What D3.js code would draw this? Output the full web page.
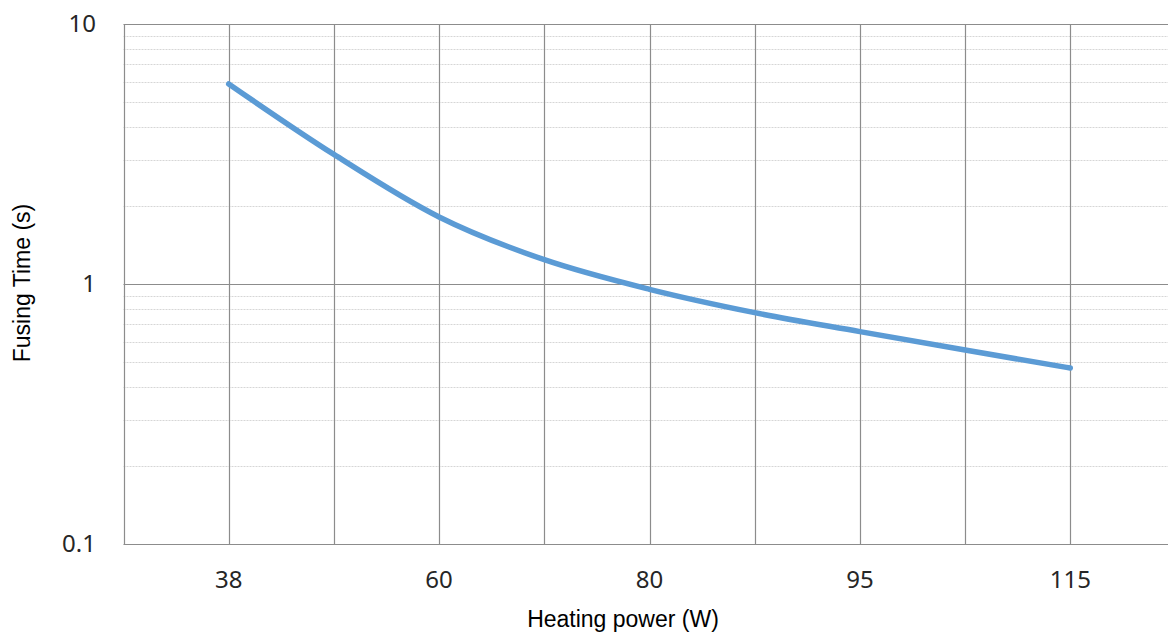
<!DOCTYPE html>
<html>
<head>
<meta charset="utf-8">
<script src="https://cdn.jsdelivr.net/npm/d3@7"></script>
<style>
  html, body { margin: 0; padding: 0; background: #fff; }
  svg { display: block; }
</style>
</head>
<body>
<svg id="chart" width="1168" height="633"></svg>
<script>
// ---- data ----
const categories = ["38", "", "60", "", "80", "", "95", "", "115"];
const fusingTime = [5.88, 3.15, 1.81, 1.24, 0.954, 0.776, 0.656, 0.557, 0.475];
const yTickValues = [0.1, 1, 10];
const yTickLabels = ["0.1", "1", "10"];
const xTitle = "Heating power (W)";
const yTitle = "Fusing Time (s)";

// ---- layout ----
const W = 1168, H = 633;
const mLeft = 123.5, mTop = 24, mBottom = 544;
const step = 105.2;

const svg = d3.select("#chart");

const x = d3.scaleLinear()
  .domain([0, categories.length + 1])
  .range([mLeft, mLeft + step * (categories.length + 1)]);
const y = d3.scaleLog().domain([0.1, 10]).range([mBottom, mTop]);

const plotRight = W;

// minor horizontal gridlines
const minor = [];
[0.1, 1].forEach(d => { for (let k = 2; k <= 9; k++) minor.push(d * k); });
svg.append("g")
  .selectAll("line")
  .data(minor)
  .join("line")
  .attr("x1", mLeft).attr("x2", plotRight)
  .attr("y1", d => Math.round(y(d)) + 0.5)
  .attr("y2", d => Math.round(y(d)) + 0.5)
  .attr("stroke", "#d6d6d6")
  .attr("stroke-width", 1)
  .attr("stroke-dasharray", "2,1");

// major horizontal gridlines
svg.append("g")
  .selectAll("line")
  .data(yTickValues)
  .join("line")
  .attr("x1", mLeft).attr("x2", plotRight)
  .attr("y1", d => Math.round(y(d)) + 0.5)
  .attr("y2", d => Math.round(y(d)) + 0.5)
  .attr("stroke", "#8c8c8c")
  .attr("stroke-width", 1.2);

// vertical gridlines (left axis + category lines)
const vIdx = d3.range(0, categories.length + 1);
svg.append("g")
  .selectAll("line")
  .data(vIdx)
  .join("line")
  .attr("x1", d => Math.round(x(d)) + 0.5)
  .attr("x2", d => Math.round(x(d)) + 0.5)
  .attr("y1", mTop).attr("y2", mBottom + 0.5)
  .attr("stroke", "#8c8c8c")
  .attr("stroke-width", 1.2);

// x tick labels
svg.append("g")
  .selectAll("text")
  .data(categories)
  .join("text")
  .attr("x", (d, i) => x(i + 1))
  .attr("y", 588)
  .attr("text-anchor", "middle")
  .attr("font-family", "'Noto Sans', sans-serif")
  .attr("font-size", 24)
  .attr("fill", "#262626")
  .text(d => d);

// y tick labels
svg.append("g")
  .selectAll("text")
  .data(yTickValues)
  .join("text")
  .attr("x", 96)
  .attr("y", d => y(d))
  .attr("dy", "0.35em")
  .attr("text-anchor", "end")
  .attr("font-family", "'Noto Sans', sans-serif")
  .attr("font-size", 24)
  .attr("fill", "#262626")
  .text((d, i) => yTickLabels[i]);

// line
const line = d3.line()
  .x((d, i) => x(i + 1))
  .y(d => y(d))
  .curve(d3.curveMonotoneX);

svg.append("path")
  .datum(fusingTime)
  .attr("d", line)
  .attr("fill", "none")
  .attr("stroke", "#5b9bd5")
  .attr("stroke-width", 5.5)
  .attr("stroke-linecap", "round")
  .attr("stroke-linejoin", "round");

// axis titles
svg.append("text")
  .attr("x", 623)
  .attr("y", 627)
  .attr("text-anchor", "middle")
  .attr("font-family", "'Liberation Sans', Arial, sans-serif")
  .attr("font-size", 23)
  .attr("fill", "#000")
  .text(xTitle);

svg.append("text")
  .attr("transform", "translate(30,283) rotate(-90)")
  .attr("text-anchor", "middle")
  .attr("font-family", "'Liberation Sans', Arial, sans-serif")
  .attr("font-size", 23)
  .attr("fill", "#000")
  .text(yTitle);
</script>
</body>
</html>
